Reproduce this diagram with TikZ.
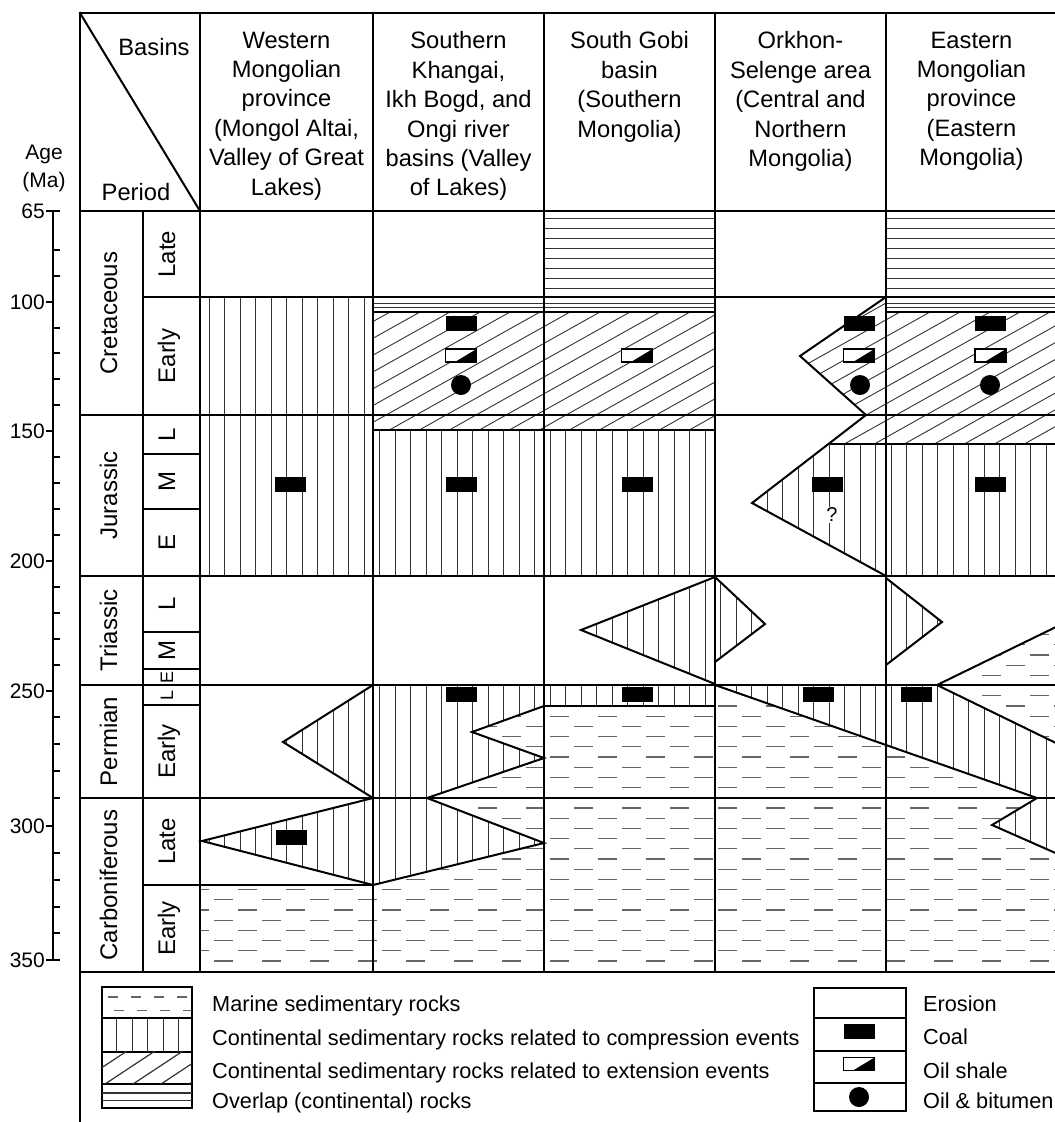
\documentclass[tikz,border=0pt]{standalone}
\usepackage{fontspec}
\setmainfont{Liberation Sans}
\usetikzlibrary{positioning}

\tikzset{frame/.style={line width=2pt, line cap=rect}}
\tikzset{bound/.style={line width=2pt, line join=miter}}
\tikzset{thinbound/.style={line width=1.3pt}}
\tikzset{patline/.style={line width=0.9pt, black!80}}
\tikzset{dashline/.style={line width=1.2pt, black!60}}
\tikzset{hdr/.style={font=\fontsize{23.7}{29.4}\selectfont, align=center, anchor=north, inner sep=0pt}}
\tikzset{per/.style={font=\fontsize{24}{28}\selectfont, rotate=90, anchor=base, inner sep=0pt}}
\tikzset{age/.style={font=\fontsize{21}{25}\selectfont, anchor=base east, inner sep=0pt}}
\tikzset{leg/.style={font=\fontsize{21.7}{26}\selectfont, anchor=base west, inner sep=0pt}}

% rock fills: #1 is a closed path
\newcommand{\compfill}[1]{%
  \fill[white] #1;
  \begin{scope}
    \clip #1;
    \foreach \x in {209,224.5,...,1070} \draw[patline] (\x,200) -- (\x,1000);
  \end{scope}}
\newcommand{\extfill}[1]{%
  \fill[white] #1;
  \begin{scope}
    \clip #1;
    \foreach \x in {0,30,...,1100} \draw[patline] (\x,480) -- ++(400,-224);
  \end{scope}}
\newcommand{\olapfill}[1]{%
  \fill[white] #1;
  \begin{scope}
    \clip #1;
    \foreach \y in {218,228,...,290,303,307.5} \draw[patline] (190,\y) -- (1070,\y);
  \end{scope}}
\newcommand{\marinefill}[1]{%
  \fill[white] #1;
  \begin{scope}
    \clip #1;
    \foreach \y in {624.4,644.8,...,980} \draw[dashline, dash pattern=on 19pt off 29pt] (190,\y) -- (1070,\y);
    \foreach \y in {634.6,655,...,980} \draw[dashline, dash pattern=on 19pt off 29pt, dash phase=24pt] (190,\y) -- (1070,\y);
  \end{scope}}
% symbols
\newcommand{\coalmark}[2]{\fill (#1-15.5,#2-7.5) rectangle (#1+15.5,#2+7.5);}
\newcommand{\shalemark}[2]{%
  \draw[line width=1.3pt, fill=white] (#1-15.5,#2-6.5) rectangle (#1+15.5,#2+6.5);
  \fill (#1-6,#2+6.5) -- (#1+15.5,#2+6.5) -- (#1+15.5,#2-6.5) -- cycle;}
\newcommand{\oilmark}[2]{\fill (#1,#2) circle [radius=10pt];}

\begin{document}
\begin{tikzpicture}[x=1pt, y=-1pt]
  \useasboundingbox (0,0) rectangle (1055,1122);
  \clip (0,0) rectangle (1055,1122);

  % Western Mongolian province
  \compfill{(200,297) rectangle (373,576)}
  \compfill{(373,685) -- (283,742) -- (373,798) -- cycle}
  \compfill{(373,798) -- (202,841) -- (373,885) -- cycle}
  \marinefill{(200,885) rectangle (373,972)}
  % Southern Khangai
  \olapfill{(373,297) rectangle (544,312)}
  \extfill{(373,312) rectangle (544,430)}
  \compfill{(373,430) rectangle (544,576)}
  \marinefill{(373,706) rectangle (544,972)}
  \compfill{(373,685) -- (544,685) -- (544,706) -- (472,732) -- (544,758) -- (427,798) -- (544,843) -- (373,885) -- cycle}
  % South Gobi
  \olapfill{(544,211) rectangle (715,312)}
  \extfill{(544,312) rectangle (715,430)}
  \compfill{(544,430) rectangle (715,576)}
  \compfill{(715,577) -- (581,630) -- (715,684) -- cycle}
  \compfill{(544,685) rectangle (715,706)}
  \marinefill{(544,706) rectangle (715,972)}
  % Orkhon-Selenge
  \extfill{(886,297) -- (800,356) -- (866,415) -- (830,444) -- (886,444) -- cycle}
  \compfill{(830,444) -- (752,503) -- (886,576) -- (886,444) -- cycle}
  \compfill{(715,577) -- (765,624) -- (715,662) -- cycle}
  \marinefill{(715,685) rectangle (886,972)}
  \compfill{(715,685) -- (886,685) -- (886,745) -- cycle}
  % Eastern Mongolian province
  \olapfill{(886,211) rectangle (1060,312)}
  \extfill{(886,312) rectangle (1060,444)}
  \compfill{(886,444) rectangle (1060,576)}
  \compfill{(886,578) -- (942,622) -- (886,665) -- cycle}
  \marinefill{(1060,625) -- (937,685) -- (886,685) -- (886,972) -- (1060,972) -- cycle}
  \compfill{(886,685) -- (937,685) -- (1060,745) -- (1060,855) -- (992,825) -- (1037,798) -- (886,745) -- cycle}

  % boundaries of the bodies
  \draw[bound] (373,685) -- (283,742) -- (373,798) -- (202,841) -- (373,885);
  \draw[bound] (544,706) -- (472,732) -- (544,758) -- (427,798) -- (544,843) -- (373,885);
  \draw[bound] (715,577) -- (581,630) -- (715,684);
  \draw[bound] (886,297) -- (800,356) -- (866,415) -- (752,503) -- (886,576);
  \draw[bound] (715,577) -- (765,624) -- (715,662);
  \draw[bound] (886,578) -- (942,622) -- (886,665);
  \draw[bound] (1060,625) -- (937,685) -- (1060,745);
  \draw[bound] (715,685) -- (1037,798) -- (992,825) -- (1060,855);
  \draw[bound] (373,312) -- (715,312) (886,312) -- (1060,312);
  \draw[thinbound] (373,430) -- (715,430) (830,444) -- (1060,444) (544,706) -- (715,706);

  % table frame
  \draw[frame, line width=2.6pt] (80,13) -- (1060,13);
  \draw[frame] (80,13) -- (80,1125);
  \foreach \x in {200,373,544,715,886} \draw[frame] (\x,13) -- (\x,972);
  \draw[frame] (143,211) -- (143,972);
  \foreach \y in {211,415,576,685,798,972} \draw[frame] (80,\y) -- (1060,\y);
  \draw[frame] (143,297) -- (1060,297);
  \foreach \y in {454,509,632,669,705} \draw[frame] (143,\y) -- (200,\y);
  \draw[frame] (143,885) -- (373,885);
  \draw[frame] (80,13) -- (200,211);

  % coal, oil shale, oil
  \coalmark{461}{323} \shalemark{461}{355.5} \oilmark{461}{385}
  \shalemark{637}{355.5}
  \coalmark{859}{323} \shalemark{859}{355.5} \oilmark{860}{385}
  \coalmark{990.5}{323} \shalemark{990.5}{355.5} \oilmark{990}{385}
  \foreach \x in {290.5,461,637,827,990.5} \coalmark{\x}{484}
  \foreach \x in {461.5,637,818.5,916} \coalmark{\x}{694}
  \coalmark{291}{837}
  \node[font=\fontsize{20}{24}\selectfont, inner sep=1pt, fill=white] (qmark) at (832,515) {?};

  % age scale
  \draw[line width=1.5pt] (53,211) -- (53,960);
  \foreach \y in {250,276,328,353,379,405,457,483,509,535,587,613,639,665,717,744,771,798,853,880,907,933}
    \draw[line width=1.3pt] (53,\y) -- (60,\y);
  \foreach \y in {302,431,561,691,826} \draw[line width=1.3pt] (46,\y) -- (53,\y);
  \draw[line width=1.3pt] (46,211) -- (60,211) (46,960) -- (60,960);
  \node[age] (a65) at (45,218) {65};
  \node[age] (a100) at (45,309) {100};
  \node[age] (a150) at (45,438) {150};
  \node[age] (a200) at (45,568) {200};
  \node[age] (a250) at (45,698) {250};
  \node[age] (a300) at (45,833) {300};
  \node[age] (a350) at (45,967) {350};
  \node[age, anchor=base] (agelbl) at (44,159) {Age};
  \node[age, anchor=base] (malbl) at (44,187) {(Ma)};

  % header
  \node[hdr, anchor=base] (basins) at (154,55) {Basins};
  \node[hdr, anchor=base] (period) at (136,200) {Period};
  \node[hdr] (wmp) at (286.5,31.5) {Western\\Mongolian\\province\\(Mongol Altai,\\Valley of Great\\Lakes)};
  \node[hdr] (skh) at (458.5,31.5) {Southern\\Khangai,\\Ikh Bogd, and\\Ongi river\\basins (Valley\\of Lakes)};
  \node[hdr] (sgb) at (629.5,31.5) {South Gobi\\basin\\(Southern\\Mongolia)};
  \node[hdr] (osa) at (800.5,31.5) {Orkhon-\\Selenge area\\(Central and\\Northern\\Mongolia)};
  \node[hdr] (emp) at (971.5,31.5) {Eastern\\Mongolian\\province\\(Eastern\\Mongolia)};

  % periods
  \node[per] (cret) at (117,313) {Cretaceous};
  \node[per] (jur) at (117,495.5) {Jurassic};
  \node[per] (tri) at (117,630.5) {Triassic};
  \node[per] (perm) at (117,741.5) {Permian};
  \node[per] (carb) at (117,885) {Carboniferous};
  \node[per] (kl) at (175,254) {Late};
  \node[per] (ke) at (175,356) {Early};
  \node[per] (jl) at (175,434.5) {L};
  \node[per] (jm) at (175,481.5) {M};
  \node[per] (je) at (175,542.5) {E};
  \node[per] (tl) at (175,604) {L};
  \node[per] (tm) at (175,650.5) {M};
  \node[per, font=\fontsize{18}{20}\selectfont] (te) at (173,677) {E};
  \node[per, font=\fontsize{18}{20}\selectfont] (pl) at (173,695) {L};
  \node[per] (pe) at (175,751.5) {Early};
  \node[per] (cl) at (175,841.5) {Late};
  \node[per] (ce) at (175,928.5) {Early};

  % legend, rocks
  \draw[frame] (102,987) rectangle (192,1108);
  \foreach \y in {1018,1051.5,1084} \draw[frame] (102,\y) -- (192,\y);
  \draw[dashline, dash pattern=on 10pt off 13pt, dash phase=18pt] (103,997) -- (191,997);
  \draw[dashline, dash pattern=on 10pt off 13pt, dash phase=12pt] (103,1010.5) -- (191,1010.5);
  \foreach \x in {116.5,132,147.5,163,178.5} \draw[patline] (\x,1018) -- (\x,1051.5);
  \begin{scope}
    \clip (102,1051.5) rectangle (192,1084);
    \foreach \x in {77,105,...,200} \draw[patline, line width=1.2pt] (\x,1084) -- ++(50,-33);
  \end{scope}
  \foreach \y in {1093,1100.5} \draw[patline, line width=1.2pt] (102,\y) -- (192,\y);
  \node[leg] (lmar) at (212,1011) {Marine sedimentary rocks};
  \node[leg] (lcomp) at (212,1045) {Continental sedimentary rocks related to compression events};
  \node[leg] (lext) at (212,1078) {Continental sedimentary rocks related to extension events};
  \node[leg] (lolap) at (212,1108) {Overlap (continental) rocks};

  % legend, symbols
  \draw[frame] (814,988) rectangle (906,1111);
  \foreach \y in {1018,1051,1083} \draw[frame] (814,\y) -- (906,\y);
  \coalmark{859}{1031} \shalemark{859}{1064} \oilmark{859}{1097}
  \node[leg] (lero) at (923,1011) {Erosion};
  \node[leg] (lcoal) at (923,1044) {Coal};
  \node[leg] (lshale) at (923,1078) {Oil shale};
  \node[leg] (loil) at (923,1108) {Oil \& bitumen};
\end{tikzpicture}
\end{document}
